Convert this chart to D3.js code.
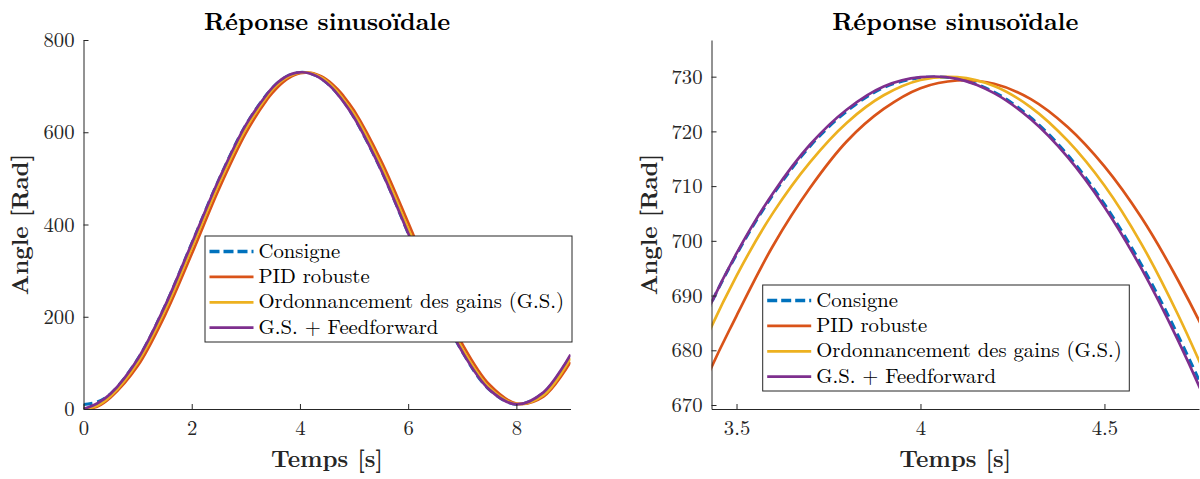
<!DOCTYPE html>
<html><head><meta charset="utf-8">
<script src="https://cdn.jsdelivr.net/npm/d3@7"></script>
<style>body{margin:0;background:#fff}svg{display:block}</style>
</head><body>
<svg id="chart" width="1200" height="479"></svg>
<script>
// ---- data ----
const times = [0,0.25,0.5,1,1.5,2,2.5,3,3.4,3.5,3.6,3.7,3.8,3.9,4.0,4.1,4.2,4.3,4.4,4.5,4.6,4.7,4.8,5,5.5,6,6.5,7,7.5,8,8.5,9];
const consigne = [10,15,33,108,222,359,497,616,684,697.5,708.5,717.3,723.7,728.0,729.8,729.6,727.2,722.5,715.7,706.7,695.7,682.7,667.8,632,518,381,243,124,42,10,35,115];
const pidRobuste = [0,5,25,93,202,336,476,598,672,686.3,699.2,709.7,718.2,724.1,727.9,729.3,728.7,725.9,720.8,713.6,704.3,692.8,679.4,647,538,404,264,141,53,12,27,102];
const gainScheduling = [0,7,28,101,213,349,488,608,679.5,693.6,705.2,714.4,721.6,726.6,729.4,729.9,728.3,724.4,718.3,710.1,699.5,686.5,671.5,639,527,391,252,131,46,11,30,110];
const gsFeedforward = [0,12,33,108,222,359,497,616,684.1,697.7,708.8,717.6,724,728.2,729.9,729.6,727,722.2,715.3,706.2,695,681.8,666.8,632,518,381,243,124,42,10,36,118];

const seriesNames = ["Consigne","PID robuste","Ordonnancement des gains (G.S.)","G.S. + Feedforward"];
const seriesValues = [consigne, pidRobuste, gainScheduling, gsFeedforward];
const seriesColors = ["#0072BD","#D95319","#EDB120","#7E2F8E"];
const seriesDash = ["9,5", null, null, null];

const titleText = "Réponse sinusoïdale";
const xLabelText = "Temps [s]";
const yLabelText = "Angle [Rad]";
const leftXTicks = [0,2,4,6,8];
const leftYTicks = [0,200,400,600,800];
const rightXTicks = [3.5,4,4.5];
const rightYTicks = [670,680,690,700,710,720,730];

// ---- layout ----
const panels = [
  {id:"L", x0:83.5, x1:570.5, y0:40, y1:409, xDomain:[0,9], yDomain:[0,800],
   xTicks:leftXTicks, yTicks:leftYTicks, yLabelX:28, legend:{x:205, y:236, w:367, h:106}},
  {id:"R", x0:711.5, x1:1199, y0:40, y1:409, xDomain:[3.432,4.757], yDomain:[669.27,736.7],
   xTicks:rightXTicks, yTicks:rightYTicks, yLabelX:656.5, legend:{x:762.7, y:285, w:366.6, h:106}}
];

const svg = d3.select("#chart");
const axisColor = "#262626";
const cmFont = "Latin Modern Roman";

const data = seriesValues.map(vals => times.map((t,i)=>({t, v: vals[i]})));

panels.forEach(p => {
  const x = d3.scaleLinear().domain(p.xDomain).range([p.x0, p.x1]);
  const y = d3.scaleLinear().domain(p.yDomain).range([p.y1, p.y0]);

  svg.append("clipPath").attr("id","clip"+p.id)
    .append("rect").attr("x",p.x0).attr("y",p.y0).attr("width",p.x1-p.x0).attr("height",p.y1-p.y0);

  const line = d3.line().x(d=>x(d.t)).y(d=>y(d.v)).curve(d3.curveCatmullRom.alpha(0.5));
  const g = svg.append("g").attr("clip-path","url(#clip"+p.id+")");
  data.forEach((d,i) => {
    g.append("path").attr("d", line(d))
      .attr("fill","none")
      .attr("stroke", seriesColors[i])
      .attr("stroke-width", i===0 ? 3 : 2.7)
      .attr("stroke-dasharray", seriesDash[i])
      .attr("stroke-linejoin","round");
  });

  // axes
  const xAxis = d3.axisBottom(x).tickValues(p.xTicks).tickSize(-5).tickSizeOuter(0).tickPadding(11)
    .tickFormat(d3.format("~g"));
  const yAxis = d3.axisLeft(y).tickValues(p.yTicks).tickSize(-5).tickSizeOuter(0).tickPadding(9)
    .tickFormat(d3.format("~g"));
  const gx = svg.append("g").attr("transform",`translate(0,${p.y1})`).call(xAxis);
  const gy = svg.append("g").attr("transform",`translate(${p.x0},0)`).call(yAxis);
  [gx,gy].forEach(ax => {
    ax.attr("font-family", cmFont).attr("font-size", 20.7);
    ax.select(".domain").attr("stroke",axisColor).attr("stroke-width",1);
    ax.selectAll(".tick line").attr("stroke",axisColor);
    ax.selectAll(".tick text").attr("fill",axisColor);
  });

  // title and labels
  const cx = (p.x0+p.x1)/2;
  svg.append("text").attr("x",cx).attr("y",30).attr("text-anchor","middle")
    .attr("font-family",cmFont).attr("font-weight","bold").attr("font-size",24.5).attr("fill","#000")
    .text(titleText);
  svg.append("text").attr("x",cx).attr("y",467).attr("text-anchor","middle")
    .attr("font-family",cmFont).attr("font-weight","bold").attr("font-size",23.5).attr("fill","#262626")
    .text(xLabelText);
  svg.append("text").attr("transform",`translate(${p.yLabelX},${(p.y0+p.y1)/2}) rotate(-90)`)
    .attr("text-anchor","middle")
    .attr("font-family",cmFont).attr("font-weight","bold").attr("font-size",23.5).attr("fill","#262626")
    .text(yLabelText);

  // legend
  const L = p.legend;
  const lg = svg.append("g").attr("transform",`translate(${L.x},${L.y})`);
  lg.append("rect").attr("x",0).attr("y",0).attr("width",L.w).attr("height",L.h)
    .attr("fill","#fff").attr("stroke",axisColor).attr("stroke-width",1);
  seriesNames.forEach((name,i) => {
    const ry = 15.5 + 25.4*i;
    lg.append("line").attr("x1",4.5).attr("x2",48.5).attr("y1",ry).attr("y2",ry)
      .attr("stroke",seriesColors[i]).attr("stroke-width", i===0 ? 3.5 : 2.7)
      .attr("stroke-dasharray", i===0 ? "10,4" : null);
    lg.append("text").attr("x",53.5).attr("y",ry+6)
      .attr("font-family",cmFont).attr("font-size",20.7).attr("fill","#000")
      .text(name);
  });
});
</script>
</body></html>
